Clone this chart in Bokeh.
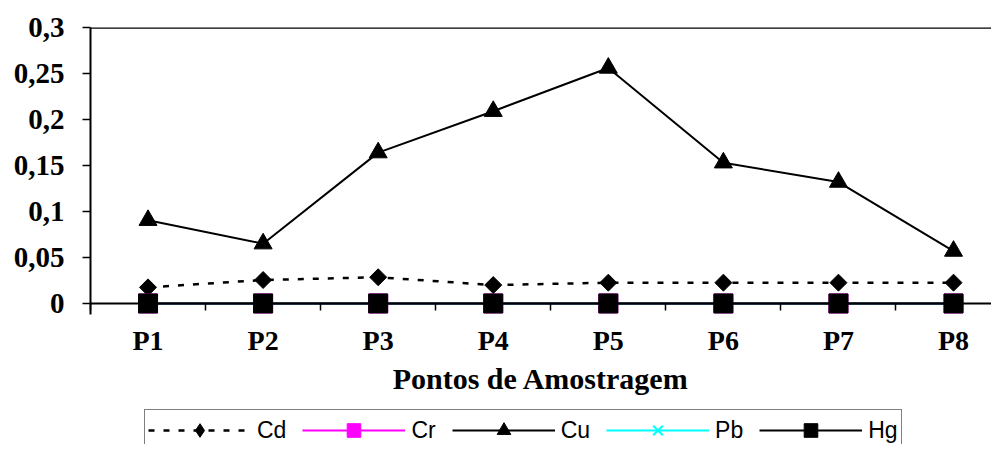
import math
from bokeh.plotting import figure
from bokeh.layouts import column
from bokeh.models import Range1d, FixedTicker, Legend, LegendItem, Span
from bokeh.embed import file_html
from bokeh.resources import INLINE

# ---- data ----
categories = ["P1", "P2", "P3", "P4", "P5", "P6", "P7", "P8"]
cd = [0.0175, 0.0255, 0.0285, 0.020, 0.0226, 0.0226, 0.0226, 0.0226]
cr = [0, 0, 0, 0, 0, 0, 0, 0]
cu = [0.0905, 0.065, 0.164, 0.209, 0.256, 0.153, 0.132, 0.057]
pb = [0, 0, 0, 0, 0, 0, 0, 0]
hg = [0, 0, 0, 0, 0, 0, 0, 0]
series_names = ["Cd", "Cr", "Cu", "Pb", "Hg"]
y_ticks = [0, 0.05, 0.1, 0.15, 0.2, 0.25, 0.3]
y_tick_labels = ["0", "0,05", "0,1", "0,15", "0,2", "0,25", "0,3"]
x_title = "Pontos de Amostragem"

xs = list(range(1, len(categories) + 1))
boundaries = [i + 0.5 for i in range(0, len(categories) + 1)]

SERIF = "Liberation Serif"
SANS = "Liberation Sans"

p = figure(width=991, height=397, output_backend="svg", toolbar_location=None,
           x_range=Range1d(0.5, 8.33), y_range=Range1d(-0.012, y_ticks[-1]),
           min_border_left=90, min_border_right=0, min_border_top=27,
           min_border_bottom=0)
p.outline_line_color = None
p.xgrid.visible = False
p.ygrid.visible = False

# y axis
ya = p.yaxis[0]
ya.ticker = FixedTicker(ticks=y_ticks)
ya.major_label_overrides = {t: l for t, l in zip(y_ticks, y_tick_labels)}
ya.major_label_text_font = SERIF
ya.major_label_text_font_style = "bold"
ya.major_label_text_font_size = "29px"
ya.major_label_text_color = "black"
ya.major_tick_out = 8
ya.major_tick_in = 0
ya.major_tick_line_width = 1.5
ya.major_tick_line_color = "black"
ya.minor_tick_line_color = None
ya.axis_line_width = 2
ya.axis_line_color = "black"
ya.major_label_standoff = 18

# x axis (sits at the frame bottom; zero line drawn with a Span)
xa = p.xaxis[0]
xa.ticker = FixedTicker(ticks=xs, minor_ticks=boundaries)
xa.major_label_overrides = {x: c for x, c in zip(xs, categories)}
xa.major_label_text_font = SERIF
xa.major_label_text_font_style = "bold"
xa.major_label_text_font_size = "28px"
xa.major_label_text_color = "black"
xa.major_tick_in = 0
xa.major_tick_out = 0
xa.minor_tick_in = 11
xa.minor_tick_out = -4
xa.minor_tick_line_width = 1.5
xa.minor_tick_line_color = "black"
xa.axis_line_color = None
xa.major_label_standoff = 10
xa.axis_label = x_title
xa.axis_label_text_font = SERIF
xa.axis_label_text_font_style = "bold"
xa.axis_label_text_font_size = "30px"
xa.axis_label_text_color = "black"
xa.axis_label_standoff = 3

# frame lines: top border and zero line
p.add_layout(Span(location=y_ticks[-1], dimension="width", line_color="black", line_width=2.5))
p.add_layout(Span(location=y_ticks[0], dimension="width", line_color="black", line_width=2))


def draw_series(fig, cd_marker, cd_angle, cd_size):
    out = []
    out.append((fig.line(xs, cd, line_color="black", line_width=2.5, line_dash="6 9"),
                fig.scatter(xs, cd, marker=cd_marker, angle=cd_angle, size=cd_size,
                            fill_color="black", line_color="black")))
    out.append((fig.line(xs, cr, line_color="#FF00FF", line_width=2),
                fig.scatter(xs, cr, marker="square", size=19, fill_color="#FF00FF",
                            line_color="#FF00FF")))
    out.append((fig.line(xs, cu, line_color="black", line_width=2),
                fig.scatter(xs, cu, marker="triangle", size=18, fill_color="black",
                            line_color="black")))
    out.append((fig.line(xs, pb, line_color="#00FFFF", line_width=2),
                fig.scatter(xs, pb, marker="x", size=16, line_color="#00FFFF", line_width=2)))
    out.append((fig.line(xs, hg, line_color="black", line_width=2),
                fig.scatter(xs, hg, marker="square", size=19, fill_color="black",
                            line_color="black")))
    return out


draw_series(p, "square", math.pi / 4, 12)

# legend strip below the chart (its own renderers lie outside its visible range)
p2 = figure(width=991, height=47, output_backend="svg", toolbar_location=None,
            x_range=Range1d(-20, -10), y_range=Range1d(-20, -10),
            x_axis_location=None, y_axis_location=None, min_border=0)
p2.outline_line_color = None
p2.xgrid.visible = False
p2.ygrid.visible = False
leg_renderers = draw_series(p2, "diamond", 0, 18)
items = [LegendItem(label=n, renderers=list(r)) for n, r in zip(series_names, leg_renderers)]
legend = Legend(items=items, orientation="horizontal", location=(54, -7),
                glyph_width=103, glyph_height=34, label_height=34, label_standoff=6,
                spacing=16, padding=3, margin=0,
                label_text_font=SANS, label_text_font_size="23px", label_text_color="black",
                border_line_color="black", border_line_width=1,
                background_fill_color="white", background_fill_alpha=1.0)
p2.add_layout(legend, "center")

layout = column(p, p2, spacing=0)
open("out.html", "w").write(file_html(layout, INLINE))
